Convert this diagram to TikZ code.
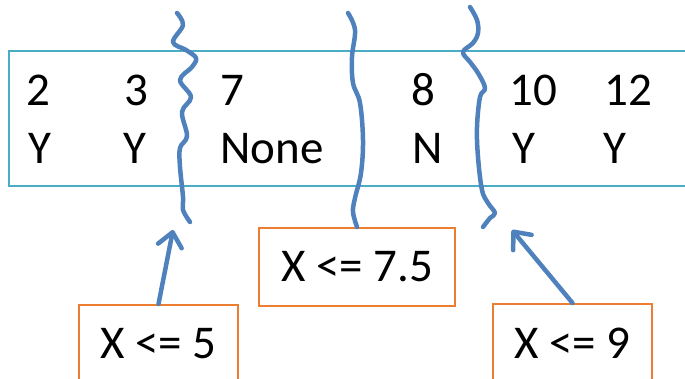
\documentclass[tikz,border=0pt]{standalone}
\usepackage{fontspec}
\setmainfont{Carlito}
\usetikzlibrary{arrows.meta}

\definecolor{rowblue}{HTML}{4BACC6}
\definecolor{cutblue}{HTML}{4F81BD}
\definecolor{splitorange}{HTML}{ED7D31}

\begin{document}
\begin{tikzpicture}[x=1pt, y=-1pt, >={Straight Barb[length=14pt, width=24pt, round]},
    big/.style={font=\fontsize{47}{50}\selectfont},
    cell/.style={big, anchor=base west, inner sep=0pt},
    split/.style={big, draw=splitorange, line width=2pt, minimum height=78pt, inner sep=0pt},
    cut/.style={cutblue, line width=4.5pt, line cap=round, line join=round}]

    % 1. Rahmen
    \clip (0,0) rectangle (685,379);
    \draw[rowblue, line width=2pt] (9,51) rectangle (700,186);

    % 2. Werte und Klassen
    \node[cell] (v2) at (26,106) {2};
    \node[cell] (v3) at (124,106) {3};
    \node[cell] (v7) at (220,106) {7};
    \node[cell] (v8) at (411,106) {8};
    \node[cell] (v10) at (509,106) {10};
    \node[cell] (v12) at (604,106) {12};
    \node[cell] (k2) at (28,164) {Y};
    \node[cell] (k3) at (123,164) {Y};
    \node[cell] (k7) at (220,164) {None};
    \node[cell] (k8) at (412,164) {N};
    \node[cell] (k10) at (512,164) {Y};
    \node[cell] (k12) at (603,164) {Y};

    % 3. Schwellen
    \node[split, minimum width=159pt] (le5) at (158.5,344) {X <= 5};
    \node[split, minimum width=196pt] (le75) at (357,267) {X <= 7.5};
    \node[split, minimum width=159pt] (le9) at (572.5,343) {X <= 9};

    % 4. Schnitte
    \draw[cut] plot[smooth, tension=0.6] coordinates {(177,13) (183,25) (173,42) (186,50) (196,58)
        (192,67) (180,80) (191,97) (182,112) (187,136) (180,148) (180,167) (183,197) (183,210) (190,222)};
    \draw[cut] plot[smooth, tension=0.6] coordinates {(348,13) (355,30) (352,57) (353,83) (360,103)
        (363,140) (361,173) (355,198) (353,212) (le75.north)};
    \draw[cut] plot[smooth, tension=0.6] coordinates {(470,7) (477,20) (478,33) (473,43) (463,52)
        (470,62) (478,73) (485,88) (480,97) (477,127) (478,157) (482,190) (488,203) (495,213) (490,218) (483,227)};

    % 5. Pfeile
    \coordinate (tip5) at (173,230);
    \coordinate (tip9) at (512,230);
    \draw[cut, ->] (le5.north) -- (tip5);
    \draw[cut, ->] (le9.north) -- (tip9);

\end{tikzpicture}
\end{document}
